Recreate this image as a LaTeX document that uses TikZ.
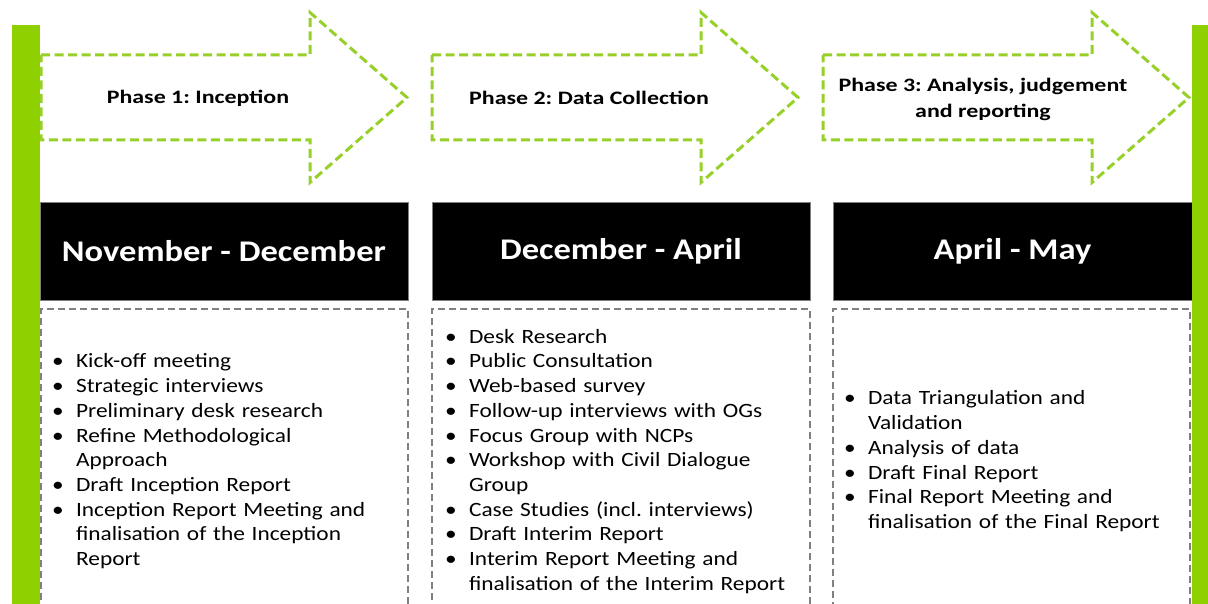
\documentclass[tikz,border=0pt]{standalone}
\usepackage{fontspec}
\setmainfont{Carlito}[FakeStretch=1.15]
\newfontfamily\phasefont{Carlito}[FakeStretch=1.26]
\usetikzlibrary{positioning}

\definecolor{barGreen}{RGB}{142,208,0}
\definecolor{dashGreen}{RGB}{150,208,40}
\definecolor{boxGray}{RGB}{128,128,128}

\newcommand{\taskitem}[1]{\par\noindent\hangindent=24pt\hangafter=1%
  \makebox[24pt][l]{\textbullet}#1}
\frenchspacing

\tikzset{
  phasearrow/.style={draw=dashGreen, line width=3pt, dash pattern=on 9pt off 4.5pt},
  phaselabel/.style={font=\phasefont\fontsize{19}{25.5}\selectfont\bfseries, align=center},
  monthbox/.style={fill=black, draw=gray, line width=0.8pt, text=white,
    font=\fontsize{30}{36}\selectfont\bfseries, minimum height=98pt, inner sep=0pt},
  taskbox/.style={draw=boxGray, line width=2.2pt, dash pattern=on 7pt off 4pt,
    minimum height=302pt, inner sep=0pt},
  tasklist/.style={font=\fontsize{20.3}{24.7}\selectfont\raggedright\frenchspacing,
    text width=350pt, inner sep=0pt, anchor=west}
}

\begin{document}
\begin{tikzpicture}[x=1pt,y=-1pt]
  \useasboundingbox (0,0) rectangle (1208,604);

  % phase arrows
  \foreach \x in {41,432,823}
    \draw[phasearrow] (\x,55) -- ++(269,0) -- ++(0,-42.5) -- ++(97,85)
      -- ++(-97,85) -- ++(0,-42.5) -- (\x,140) -- cycle;
  \node[phaselabel] (phase1) at (198,98) {Phase 1: Inception};
  \node[phaselabel] (phase2) at (589,98) {Phase 2: Data Collection};
  \node[phaselabel] (phase3) at (983,99.5) {Phase 3: Analysis, judgement\\and reporting};

  % months
  \node[monthbox, minimum width=368pt] (month1) at (224,251) {November - December};
  \node[monthbox, minimum width=378pt] (month2) at (621,251) {December - April};
  \node[monthbox, minimum width=359pt] (month3) at (1012.5,251) {April - May};

  % activities
  \node[taskbox, minimum width=367pt] (tasks1) at (224.5,460) {};
  \node[taskbox, minimum width=378pt] (tasks2) at (621,460) {};
  \node[taskbox, minimum width=357pt] (tasks3) at (1011.5,460) {};

  \node[tasklist, right=12pt of tasks1.west, yshift=4pt] (list1) {%
    \taskitem{Kick-off meeting}
    \taskitem{Strategic interviews}
    \taskitem{Preliminary desk research}
    \taskitem{Refine Methodological\newline Approach}
    \taskitem{Draft Inception Report}
    \taskitem{Inception Report Meeting and\newline finalisation of the Inception\newline Report}\par};
  \node[tasklist, right=14pt of tasks2.west, yshift=4pt] (list2) {%
    \taskitem{Desk Research}
    \taskitem{Public Consultation}
    \taskitem{Web-based survey}
    \taskitem{Follow-up interviews with OGs}
    \taskitem{Focus Group with NCPs}
    \taskitem{Workshop with Civil Dialogue\newline Group}
    \taskitem{Case Studies (incl. interviews)}
    \taskitem{Draft Interim Report}
    \taskitem{Interim Report Meeting and\newline finalisation of the Interim Report}\par};
  \node[tasklist, right=12pt of tasks3.west, yshift=4pt] (list3) {%
    \taskitem{Data Triangulation and\newline Validation}
    \taskitem{Analysis of data}
    \taskitem{Draft Final Report}
    \taskitem{Final Report Meeting and\newline finalisation of the Final Report}\par};

  % side bars
  \fill[barGreen] (12,25) rectangle (40,610);
  \fill[barGreen] (1192,25) rectangle (1210,610);
\end{tikzpicture}
\end{document}
